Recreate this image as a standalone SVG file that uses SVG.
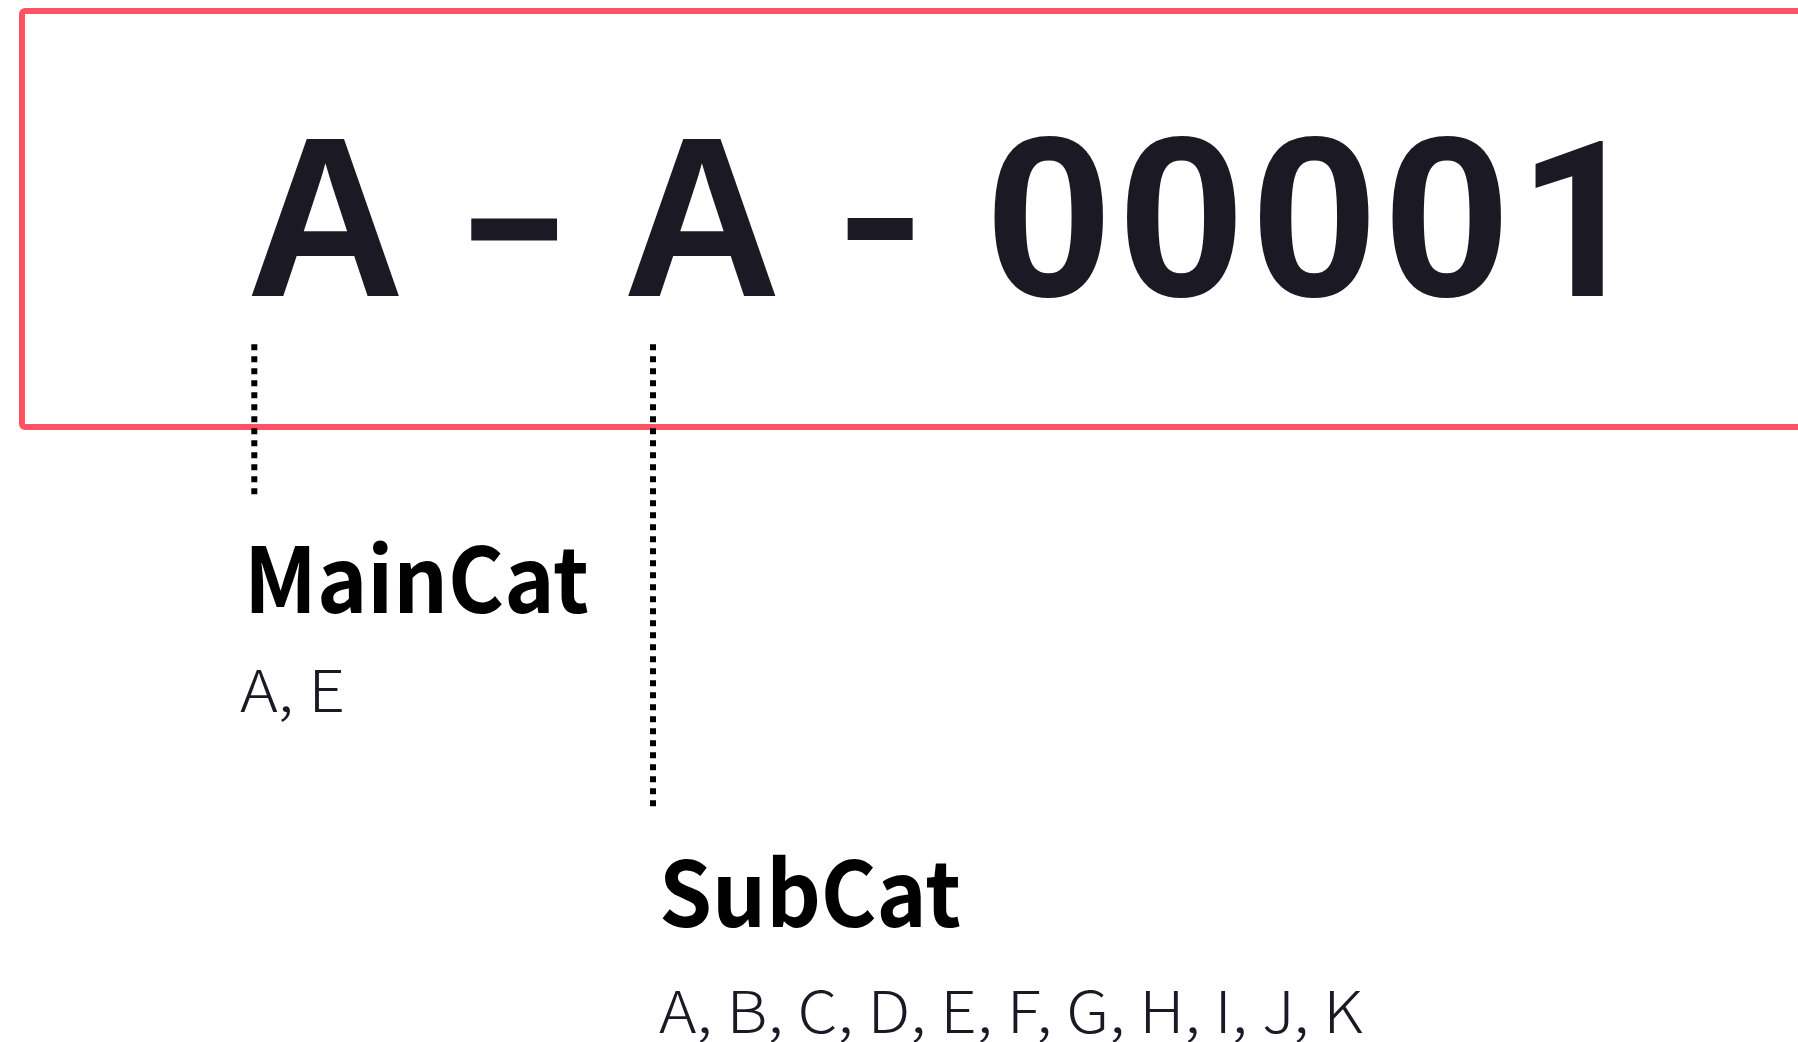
<svg xmlns="http://www.w3.org/2000/svg" width="1798" height="1042" viewBox="0 0 1798 1042">
  <style>
    .code { font-family: "Liberation Sans", Arial, sans-serif; font-weight: 700; font-size: 228px; fill: #1b1923; text-anchor: middle; }
    .one { font-family: Roboto, "Liberation Sans", sans-serif; font-weight: 700; font-size: 217px; fill: #1b1923; }
    .dash { font-family: "Noto Sans CJK KR", "Noto Sans", sans-serif; font-weight: 700; font-size: 238px; fill: #1b1923; text-anchor: middle; }
    .title { font-family: "Noto Sans CJK KR", "Noto Sans", sans-serif; font-weight: 700; font-size: 90px; fill: #000000; }
    .values { font-family: "Noto Sans CJK KR", "Noto Sans", sans-serif; font-weight: 300; font-size: 58px; fill: #1b1923; }
    .dots { stroke: #000000; stroke-width: 6; stroke-dasharray: 6 6; fill: none; }
    .frame { fill: none; stroke: #ff5264; stroke-width: 6; }
  </style>
  <rect width="1798" height="1042" fill="#ffffff"/>

  <g id="code-frame">
    <rect class="frame" x="22" y="11" width="1800" height="416" rx="3"/>
  </g>

  <g id="code">
    <text class="code" x="325.5" y="296" textLength="158.4" lengthAdjust="spacingAndGlyphs">A</text>
    <text class="dash" x="514" y="296" transform="matrix(1.32 0 0 0.875 -164.48 30)">-</text>
    <text class="code" x="702" y="296" textLength="158.4" lengthAdjust="spacingAndGlyphs">A</text>
    <text class="dash" x="880" y="296" transform="matrix(1 0 0 0.875 0 30)">-</text>
    <text class="code" x="1049" y="296">0</text>
    <text class="code" x="1181.5" y="296">0</text>
    <text class="code" x="1314.5" y="296">0</text>
    <text class="code" x="1447" y="296">0</text>
    <text class="one" x="1517.7" y="296">1</text>
  </g>

  <g id="connectors">
    <line class="dots" x1="254.3" y1="344.3" x2="254.3" y2="494.3"/>
    <line class="dots" x1="653" y1="344.3" x2="653" y2="806.7"/>
  </g>

  <g id="maincat">
    <text class="title" x="244" y="613.3" textLength="345" lengthAdjust="spacingAndGlyphs">MainCat</text>
    <text class="values" x="240" y="712" textLength="105" lengthAdjust="spacingAndGlyphs">A, E</text>
  </g>

  <g id="subcat">
    <text class="title" x="659" y="927" textLength="302" lengthAdjust="spacingAndGlyphs">SubCat</text>
    <text class="values" x="659" y="1033" textLength="704" lengthAdjust="spacingAndGlyphs">A, B, C, D, E, F, G, H, I, J, K</text>
  </g>
</svg>
